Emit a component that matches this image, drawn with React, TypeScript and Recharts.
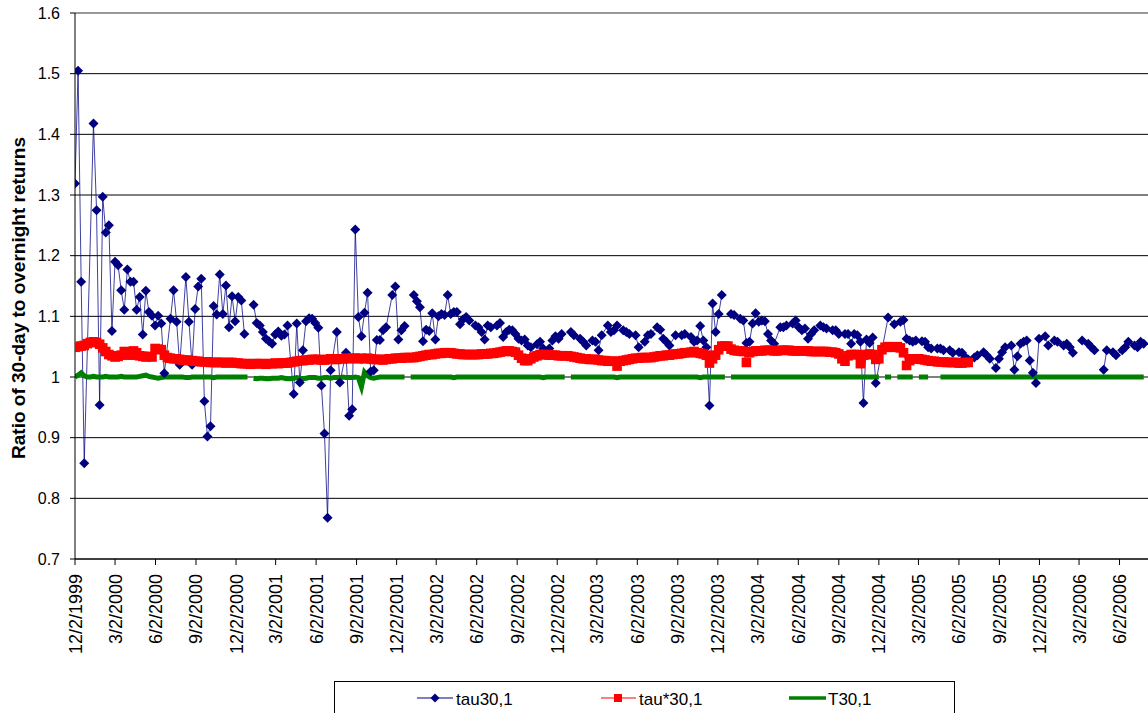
import React from 'react';
import { LineChart, Line, XAxis, YAxis, CartesianGrid, ReferenceLine, Customized } from 'recharts';

// ---------- data ----------
const xTickLabels = [
  '12/2/1999', '3/2/2000', '6/2/2000', '9/2/2000', '12/2/2000', '3/2/2001', '6/2/2001', '9/2/2001',
  '12/2/2001', '3/2/2002', '6/2/2002', '9/2/2002', '12/2/2002', '3/2/2003', '6/2/2003', '9/2/2003',
  '12/2/2003', '3/2/2004', '6/2/2004', '9/2/2004', '12/2/2004', '3/2/2005', '6/2/2005', '9/2/2005',
  '12/2/2005', '3/2/2006', '6/2/2006',
];
const xAxisEndLabel = '9/2/2006';
const yTicks = [0.7, 0.8, 0.9, 1.0, 1.1, 1.2, 1.3, 1.4, 1.5, 1.6];
const seriesNames = ['tau30,1', 'tau*30,1', 'T30,1'];
const yAxisTitle = 'Ratio of 30-day to overnight returns';

// tau30,1 : [week since 12/2/1999, value]; null = break in the line
const tau30Points: [number, number | null][] = [
  [0, 1.319], [1, 1.505], [2, 1.157], [3, 0.858], [6, 1.418], [7, 1.275], [8, 0.954], [9, 1.297], [10, 1.238],
  [11, 1.25], [12, 1.076], [13, 1.19], [14, 1.184], [15, 1.143], [16, 1.111], [17, 1.177], [18, 1.157], [19, 1.157],
  [20, 1.111], [21, 1.132], [22, 1.07], [23, 1.142], [24, 1.107], [25, 1.101], [26, 1.085], [27, 1.101], [28, 1.088],
  [29, 1.006], [31, 1.096], [32, 1.143], [33, 1.091], [34, 1.02], [36, 1.165], [37, 1.091], [38, 1.02], [39, 1.112],
  [40, 1.149], [41, 1.162], [42, 0.96], [43, 0.902], [44, 0.919], [45, 1.117], [46, 1.103], [47, 1.169], [48, 1.104],
  [49, 1.151], [50, 1.082], [51, 1.133], [52, 1.092], [53, 1.132], [54, 1.126], [55, 1.071], [56, null], [58, 1.119],
  [59, 1.089], [60, 1.085], [61, 1.074], [62, 1.063], [63, 1.059], [64, 1.055], [65, 1.07], [66, 1.075], [67, 1.068],
  [68, 1.07], [69, 1.085], [71, 0.972], [72, 1.088], [73, 0.991], [74, 1.044], [75, 1.092], [76, 1.097], [77, 1.096],
  [78, 1.089], [79, 1.081], [80, 0.986], [81, 0.907], [82, 0.768], [83, 1.011], [85, 1.074], [86, 0.991], [88, 1.04],
  [89, 0.936], [90, 0.947], [91, 1.243], [92, 1.099], [93, 1.067], [94, 1.106], [95, 1.139], [96, 1.009], [97, 1.011],
  [98, 1.061], [99, 1.061], [100, 1.077], [101, 1.082], [103, 1.135], [104, 1.149], [105, 1.062], [106, 1.077],
  [107, 1.084], [108, null], [110, 1.135], [111, 1.125], [112, 1.115], [113, 1.059], [114, 1.078], [115, 1.076],
  [116, 1.105], [117, 1.062], [118, 1.1], [119, 1.104], [120, 1.102], [121, 1.135], [122, 1.104], [123, 1.107],
  [124, 1.107], [125, 1.087], [126, 1.095], [127, 1.099], [128, 1.093], [130, 1.085], [131, 1.082], [132, 1.074],
  [133, 1.062], [134, 1.085], [135, 1.082], [137, 1.085], [138, 1.089], [139, 1.066], [140, 1.074], [141, 1.078],
  [142, 1.077], [143, 1.071], [144, 1.063], [145, 1.06], [146, 1.062], [147, 1.052], [148, 1.049], [150, 1.054],
  [151, 1.058], [152, 1.047], [154, 1.047], [155, 1.06], [156, 1.067], [157, 1.063], [158, 1.071], [160, null],
  [161, 1.074], [162, 1.069], [164, 1.063], [165, 1.058], [166, 1.052], [168, 1.06], [169, 1.058], [170, 1.044],
  [171, 1.069], [173, 1.085], [174, 1.074], [175, 1.077], [176, 1.085], [178, 1.077], [179, 1.074], [180, 1.071],
  [182, 1.069], [183, 1.049], [185, 1.058], [186, 1.069], [187, 1.071], [189, 1.082], [190, 1.078], [191, 1.063],
  [192, 1.058], [193, 1.052], [195, 1.069], [197, 1.069], [198, 1.071], [200, 1.066], [201, 1.058], [202, 1.06],
  [203, 1.084], [204, 1.06], [205, 1.049], [206, 0.953], [207, 1.121], [208, 1.074], [209, 1.104], [210, 1.135],
  [212, null], [213, 1.104], [214, 1.102], [216, 1.096], [217, 1.093], [218, 1.056], [219, 1.058], [220, 1.088],
  [221, 1.105], [222, 1.091], [223, 1.093], [224, 1.092], [225, 1.071], [226, 1.06], [227, 1.055], [229, 1.082],
  [230, 1.082], [231, 1.085], [233, 1.088], [234, 1.093], [235, 1.082], [236, 1.077], [237, 1.08], [238, 1.063],
  [239, 1.071], [240, 1.077], [242, 1.085], [243, 1.082], [244, 1.08], [246, 1.077], [247, 1.077], [248, 1.071],
  [250, 1.071], [251, 1.071], [252, 1.055], [253, 1.071], [254, 1.069], [255, 1.058], [256, 0.957], [257, 1.062],
  [258, 1.056], [259, 1.065], [260, 0.99], [264, 1.098], [266, 1.087], [268, 1.091], [269, 1.094], [270, 1.063],
  [271, 1.06], [272, 1.058], [273, 1.06], [275, 1.059], [276, 1.058], [277, 1.049], [278, 1.047], [280, 1.047],
  [281, 1.047], [282, 1.044], [284, 1.044], [285, 1.04], [287, 1.041], [288, 1.04], [289, 1.033], [290, 1.029],
  [292, 1.032], [293, 1.036], [295, 1.041], [296, 1.036], [297, 1.03], [299, 1.015], [300, 1.03], [301, 1.041],
  [302, 1.049], [304, 1.052], [305, 1.012], [306, 1.034], [307, 1.055], [308, 1.058], [309, 1.06], [310, 1.027],
  [311, 1.007], [312, 0.99], [313, 1.063], [315, 1.067], [316, 1.052], [318, 1.06], [319, 1.058], [321, 1.052],
  [322, 1.055], [323, 1.049], [324, 1.04], [325, null], [327, 1.06], [329, 1.055], [330, 1.049], [331, 1.044],
  [332, null], [334, 1.012], [335, 1.044], [337, 1.041], [338, 1.036], [340, 1.044], [341, 1.049], [342, 1.058],
  [344, 1.052], [345, 1.049], [346, 1.058], [347, 1.055],
];

// tau*30,1 : one value per week from 12/2/1999
const tauStar30Values: number[] = [
  1.049, 1.05, 1.051, 1.052, 1.055, 1.057, 1.058, 1.057, 1.054, 1.048, 1.042, 1.037,
  1.035, 1.033, 1.034, 1.036, 1.042, 1.04, 1.036, 1.043, 1.04, 1.035, 1.034, 1.033, 1.034, 1.033,
  1.047, 1.046, 1.045, 1.036, 1.032, 1.031, 1.03, 1.03, 1.029, 1.028,
  1.028, 1.027, 1.027, 1.026, 1.026, 1.025, 1.025, 1.025, 1.024, 1.024, 1.024, 1.024, 1.024, 1.023, 1.024,
  1.024, 1.023, 1.023, 1.022, 1.022, 1.022, 1.021, 1.022, 1.022, 1.022,
  1.022, 1.021, 1.022, 1.022, 1.023, 1.022, 1.023, 1.023, 1.023, 1.024,
  1.025, 1.026, 1.027, 1.027, 1.028, 1.028, 1.029, 1.029, 1.029, 1.028,
  1.028, 1.029, 1.03, 1.029, 1.029, 1.03, 1.03, 1.031, 1.03, 1.031,
  1.031, 1.03, 1.031, 1.03, 1.031, 1.03, 1.029, 1.029, 1.029, 1.028,
  1.029, 1.03, 1.03, 1.031, 1.031, 1.031, 1.032, 1.032, 1.032, 1.032,
  1.033, 1.034, 1.035, 1.036, 1.037, 1.037, 1.038, 1.039, 1.039, 1.04,
  1.04, 1.04, 1.039, 1.038, 1.038, 1.037, 1.037, 1.037, 1.037, 1.037,
  1.037, 1.038, 1.038, 1.038, 1.039, 1.039, 1.04, 1.041, 1.042, 1.043,
  1.043, 1.042, 1.041, 1.036, 1.031, 1.027, 1.027, 1.03, 1.033, 1.035,
  1.037, 1.037, 1.037, 1.036, 1.036, 1.036, 1.035, 1.035, 1.035, 1.035,
  1.034, 1.033, 1.032, 1.031, 1.03, 1.03, 1.029, 1.029, 1.029, 1.028,
  1.027, 1.027, 1.026, 1.026, 1.026, 1.018, 1.026, 1.027, 1.028, 1.029,
  1.03, 1.031, 1.031, 1.032, 1.032, 1.032, 1.032, 1.033, 1.034, 1.035,
  1.035, 1.036, 1.036, 1.037, 1.038, 1.038, 1.039, 1.04, 1.04, 1.041,
  1.042, 1.04, 1.039, 1.038, 1.036, 1.023, 1.03, 1.036, 1.045, 1.051,
  1.051, 1.051, 1.046, 1.044, 1.043, 1.043, 1.042, 1.024, 1.04, 1.042,
  1.043, 1.043, 1.043, 1.044, 1.044, 1.044, 1.043, 1.043, 1.044, 1.044,
  1.044, 1.044, 1.043, 1.043, 1.043, 1.043, 1.043, 1.043, 1.042, 1.042,
  1.042, 1.042, 1.042, 1.042, 1.041, 1.041, 1.04, 1.038, 1.03, 1.026,
  1.035, 1.037, 1.037, 1.037, 1.022, 1.036, 1.037, 1.038, 1.037, 1.029,
  1.03, 1.045, 1.049, 1.05, 1.049, 1.049, 1.05, 1.048, 1.04, 1.019,
  1.027, 1.03, 1.03, 1.03, 1.029, 1.028, 1.027, 1.026, 1.026, 1.025,
  1.025, 1.025, 1.024, 1.024, 1.024, 1.024, 1.023, 1.023, 1.024, 1.024,
];

// T30,1 : one value per week from 12/2/1999; null = missing week
const t30Values: (number | null)[] = [
  1.0, 1.003, 1.007, 1.002, 1.0, 1.0, 1.001, 1.0, 1.0, 1.0, 1.001, 1.0, 1.0,
  1.0, 1.0, 1.001, 1.0, 1.0, 1.0, 1.0, 1.0, 1.001, 1.002, 1.003, 1.001, 1.0,
  0.999, 0.998, 0.999, 1.0, 1.0, 1.0, 1.0, 1.0, 1.0, 1.0, 0.999, 0.999, 1.0,
  1.0, 1.0, 1.0, 1.0, 1.0, 1.0, 0.999, 1.0, 1.0, 1.0, 1.0, 1.0, 1.0,
  1.0, 1.0, 1.0, 1.0, 1.0, null, 0.998, 0.997, 0.998, 0.998, 0.997, 0.997, 0.998,
  0.998, 0.998, 0.999, 0.998, 0.997, 0.997, 0.998, 0.999, 0.998, 0.997, 0.998, 0.999, 0.999,
  0.999, 0.998, 0.998, 0.999, 0.999, 0.998, 0.999, 0.999, 0.999, 1.0, 0.999, 0.999, 0.999,
  1.0, 0.999, 0.984, 1.008, 1.002, 0.999, 0.998, 0.999, 1.0, 1.0, 1.0, 1.0, 1.0,
  1.0, 1.0, 1.0, 1.0, null, 1.0, 1.0, 1.0, 1.0, 1.0, 1.0, 1.0, 1.0,
  1.0, 1.0, 1.0, 1.0, 1.0, 1.0, 0.999, 1.0, 1.0, 1.0, 1.0, 1.0, 1.0,
  1.0, 1.0, 1.0, 1.0, 1.0, 1.0, 1.0, 1.0, 1.0, 1.0, 1.0, 1.0, 1.0,
  1.0, 1.0, 1.0, 1.0, 1.0, 1.0, 1.0, 1.0, 1.0, 0.999, 1.0, 1.0, 1.0,
  1.0, 1.0, 1.0, 1.0, null, 1.0, 1.0, 1.0, 1.0, 1.0, 1.0, 1.0, 1.0,
  1.0, 1.0, 1.0, 1.0, 1.0, 1.0, 1.0, 0.999, 1.0, 1.0, 1.0, 1.0, 1.0,
  1.0, 1.0, 1.0, 1.0, 1.0, 1.0, 1.0, 1.0, 1.0, 1.0, 1.0, 1.0, 1.0,
  1.0, 1.0, 1.0, 1.0, 1.0, 1.0, 1.0, 1.0, 0.999, 1.0, 1.0, 1.0, 1.0,
  1.0, 1.0, 1.0, 1.0, null, 1.0, 1.0, 1.0, 1.0, 1.0, 1.0, 1.0, 1.0,
  1.0, 1.0, 1.0, 1.0, 1.0, 1.0, 1.0, 1.0, 1.0, 1.0, 1.0, 1.0, 1.0,
  1.0, 1.0, 1.0, 1.0, 1.0, 1.0, 1.0, 1.0, 1.0, 1.0, 1.0, 1.0, 1.0,
  1.0, 1.0, 1.0, 1.0, 1.0, 1.0, 1.0, 1.0, 1.0, 1.0, 1.0, 1.0, 1.0,
  1.0, 1.0, null, 1.0, 1.0, 1.0, null, 1.0, 1.0, 1.0, 1.0, 1.0, 1.0,
  null, 1.0, 1.0, 1.0, 1.0, null, null, null, 1.0, 1.0, 1.0, 1.0, 1.0,
  1.0, 1.0, 1.0, 1.0, 1.0, 1.0, 1.0, 1.0, 1.0, 1.0, 1.0, 1.0, 1.0,
  1.0, 1.0, 1.0, 1.0, 1.0, 1.0, 1.0, 1.0, 1.0, 1.0, 1.0, 1.0, 1.0,
  1.0, 1.0, 1.0, 1.0, 1.0, 1.0, 1.0, 1.0, 1.0, 1.0, 1.0, 1.0, 1.0,
  1.0, 1.0, 1.0, 1.0, 1.0, 1.0, 1.0, 1.0, 1.0, 1.0, 1.0, 1.0, 1.0,
  1.0, 1.0, 1.0, 1.0, 1.0, 1.0, 1.0, 1.0, 1.0, 1.0,
];

// ---------- helpers ----------
const START = Date.UTC(1999, 11, 2);
const dayOf = (label: string) => {
  const [m, d, y] = label.split('/').map(Number);
  return Math.round((Date.UTC(y, m - 1, d) - START) / 86400000);
};
const xTicks = xTickLabels.map(dayOf);
const xDomainEnd = dayOf(xAxisEndLabel);
const labelByDay = new Map<number, string>(xTickLabels.map((l) => [dayOf(l), l]));

const tau30Data = tau30Points.map(([w, v]) => ({ day: w * 7, v }));
const tauStar30Data = tauStar30Values.map((v, w) => ({ day: w * 7, v }));
const t30Data = t30Values.map((v, w) => ({ day: w * 7, v }));

const FONT = '"Liberation Sans", Arial, sans-serif';
const BLUE = '#000080';
const RED = '#ff0000';
const GREEN = '#008000';

const Diamond = (props: any) => {
  const { cx, cy, index, value } = props;
  if (cx == null || cy == null || value == null) return <g key={`d${index}`} />;
  const r = 5;
  return (
    <path key={`d${index}`} d={`M${cx},${cy - r}L${cx + r},${cy}L${cx},${cy + r}L${cx - r},${cy}Z`} fill={BLUE} stroke="none" />
  );
};

const Square = (props: any) => {
  const { cx, cy, index, value } = props;
  if (cx == null || cy == null || value == null) return <g key={`s${index}`} />;
  const h = 4.8;
  return <rect key={`s${index}`} x={cx - h} y={cy - h} width={h * 2} height={h * 2} fill={RED} stroke="none" />;
};

const XTick = (props: any) => {
  const { x, payload } = props;
  const label = labelByDay.get(payload.value) ?? '';
  const tx = x + 6.5;
  const ty = 574;
  return (
    <text x={tx} y={ty} transform={`rotate(-90 ${tx} ${ty})`} textAnchor="end" fontSize={18} fontFamily={FONT} fill="#000">
      {label}
    </text>
  );
};

const Extras = () => (
  <g>
    <text x={25} y={298} transform="rotate(-90 25 298)" textAnchor="middle" fontSize={19} fontWeight="bold" fontFamily={FONT} fill="#000">
      {yAxisTitle}
    </text>
    <rect x={334.5} y={681.5} width={620} height={60} fill="#fff" stroke="#000" strokeWidth={1} />
    <line x1={417} y1={698} x2={453} y2={698} stroke={BLUE} strokeWidth={1.2} />
    <path d="M435,693.5L439.5,698L435,702.5L430.5,698Z" fill={BLUE} />
    <text x={456} y={705} fontSize={17} fontFamily={FONT} fill="#000">{seriesNames[0]}</text>
    <line x1={601} y1={698} x2={636} y2={698} stroke={RED} strokeWidth={1.2} />
    <rect x={614} y={694} width={8} height={8} fill={RED} />
    <text x={639} y={705} fontSize={17} fontFamily={FONT} fill="#000">{seriesNames[1]}</text>
    <line x1={789} y1={698} x2={826} y2={698} stroke={GREEN} strokeWidth={3.5} />
    <text x={828} y={705} fontSize={17} fontFamily={FONT} fill="#000">{seriesNames[2]}</text>
  </g>
);

export default function App() {
  return (
    <div style={{ position: 'fixed', left: 0, top: 0, width: 1148, height: 713, overflow: 'hidden', background: '#fff' }}>
      <LineChart width={1165} height={713} margin={{ top: 13, right: 5, left: 0, bottom: 0 }}>
        <CartesianGrid vertical={false} horizontal stroke="#000" strokeWidth={1} />
        <XAxis
          dataKey="day"
          type="number"
          domain={[0, xDomainEnd]}
          ticks={xTicks}
          interval={0}
          height={154}
          tickSize={6}
          tick={<XTick />}
          axisLine={{ stroke: '#000' }}
          tickLine={{ stroke: '#000' }}
          allowDataOverflow
        />
        <YAxis
          type="number"
          domain={[0.7, 1.6]}
          ticks={yTicks}
          interval={0}
          width={75}
          tickSize={5}
          tickMargin={10}
          tickFormatter={(v: number) => v.toFixed(1).replace(/\.0$/, '')}
          tick={{ fontSize: 16, fontFamily: FONT, fill: '#000' }}
          axisLine={{ stroke: '#000' }}
          tickLine={{ stroke: '#000' }}
          allowDataOverflow
        />
        <ReferenceLine y={1.6} stroke="#a0a0a0" strokeWidth={1.5} />
        <Line
          data={tau30Data}
          dataKey="v"
          name={seriesNames[0]}
          stroke={BLUE}
          strokeWidth={1}
          strokeOpacity={0.75}
          dot={Diamond}
          activeDot={false}
          isAnimationActive={false}
        />
        <Line
          data={tauStar30Data}
          dataKey="v"
          name={seriesNames[1]}
          stroke={RED}
          strokeWidth={1}
          dot={Square}
          activeDot={false}
          isAnimationActive={false}
        />
        <Line
          data={t30Data}
          dataKey="v"
          name={seriesNames[2]}
          stroke={GREEN}
          strokeWidth={5}
          dot={false}
          activeDot={false}
          isAnimationActive={false}
        />
        <Customized component={Extras} />
      </LineChart>
    </div>
  );
}
